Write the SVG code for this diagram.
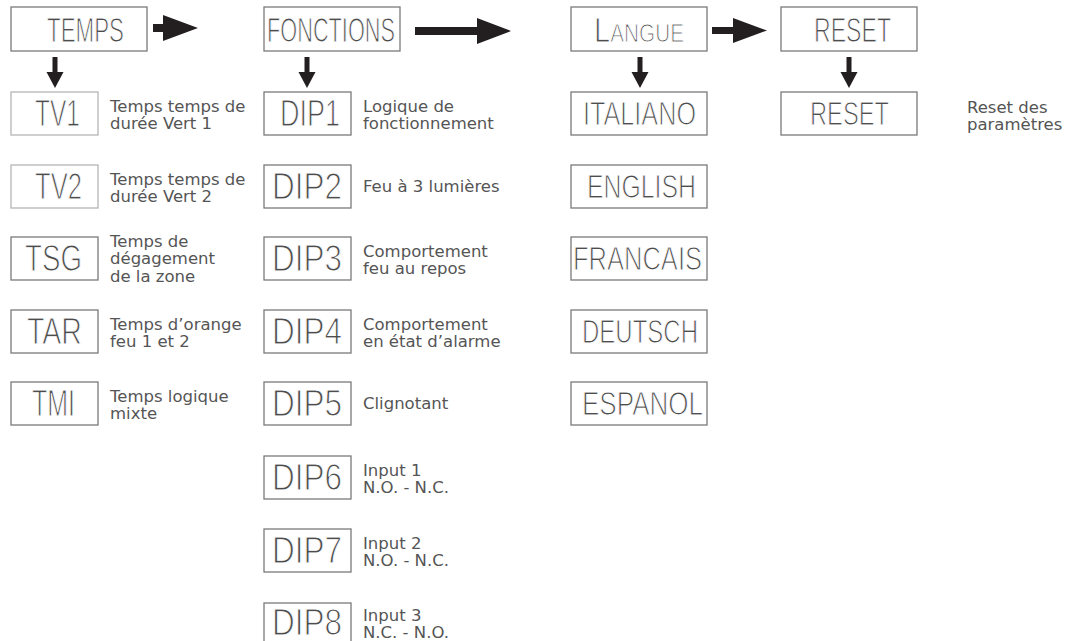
<svg xmlns="http://www.w3.org/2000/svg" width="1076" height="641" viewBox="0 0 1076 641">
<style>
.bx{fill:#fff;stroke:#7a7a7a;stroke-width:1.3}
.bl{fill:#fff;stroke:#b5b5b5;stroke-width:1.3}
.lcd{font-family:"Liberation Sans Narrow","Liberation Sans",sans-serif;fill:#4d4d4d;stroke:#fff;stroke-width:1.1}
.lt{font-size:35px}
.lc{font-size:37px}
.ll{font-size:34px}
.tx{font-family:"DejaVu Sans","Liberation Sans",sans-serif;font-size:16.5px;fill:#555}
.ar{fill:#231f20}
</style>
<rect width="1076" height="641" fill="#fff"/>
<g id="connectors">
<polygon class="ar" points="153,24 163,24 163,15 198,28 163,41 163,32 153,32"/>
<polygon class="ar" points="415,27 477,27 477,18 511,31 477,44 477,35 415,35"/>
<polygon class="ar" points="712,27 733,27 733,18 767,30.5 733,43 733,34 712,34"/>
<polygon class="ar" points="52.5,57 57.5,57 57.5,72 63.5,72 55,88 46.5,72 52.5,72"/>
<polygon class="ar" points="304.5,57 309.5,57 309.5,72 315.5,72 307,88 298.5,72 304.5,72"/>
<polygon class="ar" points="637.5,57 642.5,57 642.5,72 648.5,72 640,88 631.5,72 637.5,72"/>
<polygon class="ar" points="846.5,57 851.5,57 851.5,72 857.5,72 849,88 840.5,72 846.5,72"/>
</g>
<g id="temps"><rect class="bx" x="11" y="7" width="136" height="44"/><text class="lcd lt" x="47" y="42" textLength="77" lengthAdjust="spacingAndGlyphs">TEMPS</text></g>
<g id="fonctions"><rect class="bx" x="264" y="7" width="136" height="44"/><text class="lcd lt" x="267" y="42" textLength="128" lengthAdjust="spacingAndGlyphs">FONCTIONS</text></g>
<g id="langue"><rect class="bx" x="571" y="7" width="136" height="44"/><text class="lcd lt" x="594" y="42" textLength="90" lengthAdjust="spacingAndGlyphs" font-variant="small-caps">Langue</text></g>
<g id="reset"><rect class="bx" x="781" y="7" width="136" height="44"/><text class="lcd lt" x="814" y="42" textLength="77" lengthAdjust="spacingAndGlyphs">RESET</text></g>

<g id="tv1"><rect class="bl" x="11" y="92" width="87" height="43"/><text class="lcd lc" x="35" y="126" textLength="45" lengthAdjust="spacingAndGlyphs">TV1</text>
<text class="tx" x="110" y="111.5">Temps temps de</text><text class="tx" x="110" y="128.5">durée Vert 1</text></g>
<g id="tv2"><rect class="bl" x="11" y="165" width="87" height="43"/><text class="lcd lc" x="35" y="199" textLength="47" lengthAdjust="spacingAndGlyphs">TV2</text>
<text class="tx" x="110" y="184.5">Temps temps de</text><text class="tx" x="110" y="201.5">durée Vert 2</text></g>
<g id="tsg"><rect class="bx" x="11" y="237" width="87" height="43"/><text class="lcd lc" x="25" y="271" textLength="57" lengthAdjust="spacingAndGlyphs">TSG</text>
<text class="tx" x="110" y="246.5">Temps de</text><text class="tx" x="110" y="264">dégagement</text><text class="tx" x="110" y="281.5">de la zone</text></g>
<g id="tar"><rect class="bx" x="11" y="310" width="87" height="43"/><text class="lcd lc" x="27" y="344" textLength="55" lengthAdjust="spacingAndGlyphs">TAR</text>
<text class="tx" x="110" y="329.5">Temps d’orange</text><text class="tx" x="110" y="346.5">feu 1 et 2</text></g>
<g id="tmi"><rect class="bx" x="11" y="382" width="87" height="43"/><text class="lcd lc" x="32" y="416" textLength="43" lengthAdjust="spacingAndGlyphs">TMI</text>
<text class="tx" x="110" y="401.5">Temps logique</text><text class="tx" x="110" y="418.5">mixte</text></g>

<g id="dip1"><rect class="bx" x="264" y="92" width="87" height="43"/><text class="lcd lc" x="280" y="126" textLength="60" lengthAdjust="spacingAndGlyphs">DIP1</text>
<text class="tx" x="363" y="111.5">Logique de</text><text class="tx" x="363" y="128.5">fonctionnement</text></g>
<g id="dip2"><rect class="bx" x="264" y="165" width="87" height="43"/><text class="lcd lc" x="272" y="199" textLength="70" lengthAdjust="spacingAndGlyphs">DIP2</text>
<text class="tx" x="363" y="192">Feu à 3 lumières</text></g>
<g id="dip3"><rect class="bx" x="264" y="237" width="87" height="43"/><text class="lcd lc" x="272" y="271" textLength="70" lengthAdjust="spacingAndGlyphs">DIP3</text>
<text class="tx" x="363" y="256.5">Comportement</text><text class="tx" x="363" y="273.5">feu au repos</text></g>
<g id="dip4"><rect class="bx" x="264" y="310" width="87" height="43"/><text class="lcd lc" x="272" y="344" textLength="70" lengthAdjust="spacingAndGlyphs">DIP4</text>
<text class="tx" x="363" y="329.5">Comportement</text><text class="tx" x="363" y="346.5">en état d’alarme</text></g>
<g id="dip5"><rect class="bx" x="264" y="382" width="87" height="43"/><text class="lcd lc" x="272" y="416" textLength="70" lengthAdjust="spacingAndGlyphs">DIP5</text>
<text class="tx" x="363" y="409">Clignotant</text></g>
<g id="dip6"><rect class="bx" x="264" y="456" width="87" height="43"/><text class="lcd lc" x="272" y="490" textLength="70" lengthAdjust="spacingAndGlyphs">DIP6</text>
<text class="tx" x="363" y="475.5">Input 1</text><text class="tx" x="363" y="492.5">N.O. - N.C.</text></g>
<g id="dip7"><rect class="bx" x="264" y="529" width="87" height="43"/><text class="lcd lc" x="272" y="563" textLength="70" lengthAdjust="spacingAndGlyphs">DIP7</text>
<text class="tx" x="363" y="548.5">Input 2</text><text class="tx" x="363" y="565.5">N.O. - N.C.</text></g>
<g id="dip8"><rect class="bx" x="264" y="603" width="87" height="43"/><text class="lcd lc" x="272" y="635" textLength="70" lengthAdjust="spacingAndGlyphs">DIP8</text>
<text class="tx" x="363" y="620.5">Input 3</text><text class="tx" x="363" y="638">N.C. - N.O.</text></g>

<g id="italiano"><rect class="bx" x="571" y="92" width="136" height="43"/><text class="lcd ll" x="583" y="125" textLength="113" lengthAdjust="spacingAndGlyphs">ITALIANO</text></g>
<g id="english"><rect class="bx" x="571" y="165" width="136" height="43"/><text class="lcd ll" x="587" y="198" textLength="109" lengthAdjust="spacingAndGlyphs">ENGLISH</text></g>
<g id="francais"><rect class="bx" x="571" y="237" width="136" height="43"/><text class="lcd ll" x="573" y="270" textLength="129" lengthAdjust="spacingAndGlyphs">FRANCAIS</text></g>
<g id="deutsch"><rect class="bx" x="571" y="310" width="136" height="43"/><text class="lcd ll" x="582" y="343" textLength="116" lengthAdjust="spacingAndGlyphs">DEUTSCH</text></g>
<g id="espanol"><rect class="bx" x="571" y="382" width="136" height="43"/><text class="lcd ll" x="582" y="415" textLength="121" lengthAdjust="spacingAndGlyphs">ESPANOL</text></g>

<g id="reset2"><rect class="bx" x="781" y="92" width="136" height="43"/><text class="lcd ll" x="810" y="125" textLength="79" lengthAdjust="spacingAndGlyphs">RESET</text>
<text class="tx" x="967" y="113">Reset des</text><text class="tx" x="967" y="130">paramètres</text></g>
</svg>
